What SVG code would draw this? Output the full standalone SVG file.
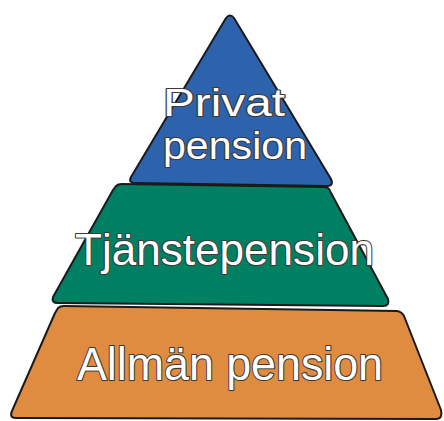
<svg xmlns="http://www.w3.org/2000/svg" width="444" height="421" viewBox="0 0 444 421">
<style>
.tier{stroke:#1a1a1a;stroke-width:2;stroke-linejoin:round}
.lbl{font-family:"Liberation Sans",Arial,sans-serif;fill:#ffffff;stroke:#3a3a3a;stroke-width:2.2;paint-order:stroke;stroke-linejoin:round;font-weight:normal}
</style>
<rect width="444" height="421" fill="#ffffff"/>
<g id="allman">
<path class="tier" d="M58,308 Q60,306 64,306 L397,311 Q402,312 404,316 L441,410 Q443,419 436,419 L16,418 Q9,418 12,411 L55,313 Z" fill="#e08c40"/>
<text class="lbl" x="77" y="380" font-size="47" textLength="306" lengthAdjust="spacingAndGlyphs">Allmän pension</text>
</g>
<g id="tjanste">
<path class="tier" d="M116,186 Q118,184 122,184 L324,187 Q329,187 330,191 L388,299 Q390,306 383,306 L58,303 Q51,303 53,297 L113,190 Z" fill="#008062"/>
<text class="lbl" x="75" y="265" font-size="45" textLength="299" lengthAdjust="spacingAndGlyphs">Tjänstepension</text>
</g>
<g id="privat">
<path class="tier" d="M226,18 Q230,13 234,18 L331,179 Q334,186 327,186 L135,183 Q128,183 131,177 Z" fill="#2d63ad"/>
<text class="lbl" x="163" y="116" font-size="38" textLength="122" lengthAdjust="spacingAndGlyphs">Privat</text>
<text class="lbl" x="163" y="159" font-size="38" textLength="144" lengthAdjust="spacingAndGlyphs">pension</text>
</g>
<g id="connectors"></g>
</svg>
